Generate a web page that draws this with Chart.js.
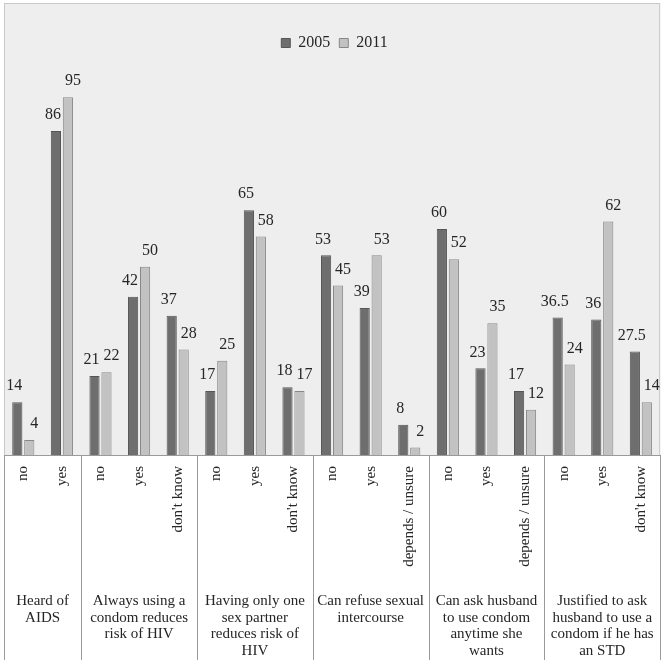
<!DOCTYPE html>
<html>
<head>
<meta charset="utf-8">
<script src="https://cdn.jsdelivr.net/npm/chart.js@4.4.1/dist/chart.umd.min.js"></script>
<style>
html,body{margin:0;padding:0;background:#ffffff;}
#wrap{width:670px;height:666px;position:relative;}
</style>
</head>
<body>
<div id="wrap"><canvas id="c" width="670" height="666"></canvas></div>
<script>
// ---- data ----
const subLabels = ["no","yes","no","yes","don't know","no","yes","don't know","no","yes","depends / unsure","no","yes","depends / unsure","no","yes","don't know"];
const groupLabels = [
  ["Heard of","AIDS"],
  ["Always using a","condom reduces","risk of HIV"],
  ["Having only one","sex partner","reduces risk of","HIV"],
  ["Can refuse sexual","intercourse"],
  ["Can ask husband","to use condom","anytime she","wants"],
  ["Justified to ask","husband to use a","condom if he has","an STD"]
];
const groupSizes = [2,3,3,3,3,3];
const seriesNames = ["2005","2011"];
const values2005 = [14,86,21,42,37,17,65,18,53,39,8,60,23,17,36.5,36,27.5];
const values2011 = [4,95,22,50,28,25,58,17,45,53,2,52,35,12,24,62,14];

const FONT = "'Liberation Serif', 'Times New Roman', serif";
const TEXT = '#262626';

const bgPlugin = {
  id: 'bgPlugin',
  beforeDraw(chart) {
    const {ctx, chartArea} = chart;
    ctx.save();
    ctx.fillStyle = '#eeeeee';
    ctx.fillRect(chartArea.left, 3, chartArea.right - chartArea.left, chartArea.bottom - 3);
    ctx.strokeStyle = '#c8c8c8';
    ctx.lineWidth = 1;
    ctx.strokeRect(chartArea.left + 0.5, 3.5, chartArea.right - chartArea.left - 1, chartArea.bottom - 3);
    ctx.restore();
  }
};

const labelPlugin = {
  id: 'labelPlugin',
  afterDatasetsDraw(chart) {
    const {ctx} = chart;
    ctx.save();
    ctx.font = '16px ' + FONT;
    ctx.fillStyle = TEXT;
    ctx.textAlign = 'center';
    ctx.textBaseline = 'middle';
    chart.data.datasets.forEach((ds, di) => {
      const meta = chart.getDatasetMeta(di);
      meta.data.forEach((bar, i) => {
        const dx = di === 0 ? -3 : 5;
        ctx.fillText(String(ds.data[i]), bar.x + dx, bar.y - 16);
      });
    });
    ctx.restore();
  },
  afterDraw(chart) {
    const {ctx, chartArea} = chart;
    const xs = chart.scales.x;
    const step = xs.getPixelForValue(1) - xs.getPixelForValue(0);
    ctx.save();
    ctx.strokeStyle = '#9a9a9a';
    ctx.lineWidth = 1;
    let idx = 0;
    const bottomY = 660;
    const drawV = (x) => {
      ctx.beginPath();
      ctx.moveTo(Math.round(x) + 0.5, chartArea.bottom);
      ctx.lineTo(Math.round(x) + 0.5, bottomY);
      ctx.stroke();
    };
    drawV(xs.getPixelForValue(0) - step / 2);
    ctx.font = '15px ' + FONT;
    ctx.fillStyle = TEXT;
    ctx.textAlign = 'center';
    ctx.textBaseline = 'middle';
    groupSizes.forEach((n, g) => {
      const x0 = xs.getPixelForValue(idx) - step / 2;
      const x1 = xs.getPixelForValue(idx + n - 1) + step / 2;
      drawV(x1);
      const cx = (x0 + x1) / 2;
      groupLabels[g].forEach((line, li) => {
        ctx.fillText(line, cx, 601 + li * 16.7);
      });
      idx += n;
    });
    ctx.restore();
  }
};

new Chart(document.getElementById('c'), {
  type: 'bar',
  data: {
    labels: subLabels,
    datasets: [
      { label: seriesNames[0], data: values2005, backgroundColor: '#6e6e6e', borderColor: '#565656', borderWidth: 1 },
      { label: seriesNames[1], data: values2011, backgroundColor: '#c2c2c2', borderColor: '#878787', borderWidth: 1 }
    ]
  },
  options: {
    responsive: false,
    animation: false,
    devicePixelRatio: 1,
    layout: { padding: { left: 4, right: 5, top: 26, bottom: 0 } },
    datasets: { bar: { categoryPercentage: 0.62, barPercentage: 0.85 } },
    plugins: {
      legend: {
        position: 'top',
        labels: {
          font: { family: FONT, size: 16 },
          color: TEXT,
          boxWidth: 9,
          boxHeight: 9,
          padding: 9
        }
      },
      tooltip: { enabled: false }
    },
    scales: {
      x: {
        grid: { display: false, drawTicks: false },
        border: { display: true, color: '#9a9a9a' },
        ticks: {
          font: { family: FONT, size: 15 },
          color: TEXT,
          minRotation: 90,
          maxRotation: 90,
          autoSkip: false,
          padding: 11
        },
        afterFit(scale) { scale.height = 211; }
      },
      y: {
        display: false,
        min: 0,
        max: 104.6
      }
    }
  },
  plugins: [bgPlugin, labelPlugin]
});
</script>
</body>
</html>
